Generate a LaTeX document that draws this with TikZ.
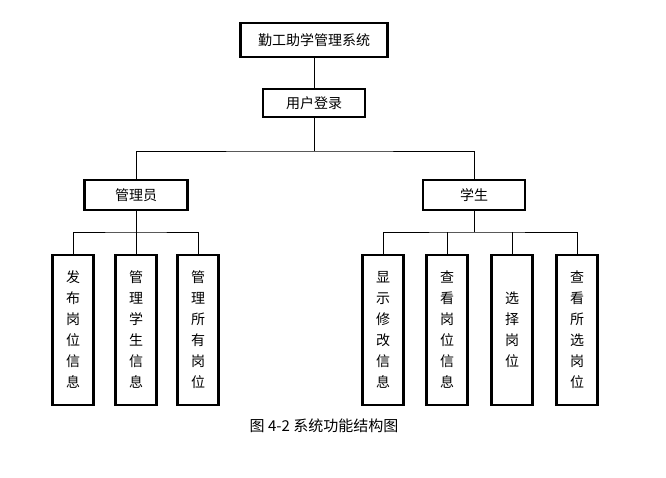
\documentclass[tikz,border=0pt]{standalone}
\usepackage{fontspec}
\newfontfamily\cjk{Noto Sans CJK SC}
\usetikzlibrary{positioning}
\tikzset{
  box/.style={draw, line width=2.6pt, inner sep=0pt, font=\cjk\fontsize{14}{16}\selectfont},
  leaf/.style={draw, line width=2.6pt, inner sep=0pt, minimum width=41pt, minimum height=150pt,
    align=center, font=\cjk\fontsize{14}{21}\selectfont},
  link/.style={line width=0.8pt}
}

\begin{document}
\begin{tikzpicture}[x=1pt, y=-1pt]
\useasboundingbox[fill=white] (0,0) rectangle (666,477);

\node[box, minimum width=147pt, minimum height=34pt] (sys) at (314,40) {勤工助学管理系统};
\node[box, minimum width=102pt, minimum height=28pt] (login) at (314,103) {用户登录};
\node[box, minimum width=103pt, minimum height=30pt] (admin) at (136,195) {管理员};
\node[box, minimum width=102pt, minimum height=30pt] (student) at (474,195) {学生};

\node[leaf] (a1) at (73,330) {发\\布\\岗\\位\\信\\息};
\node[leaf] (a2) at (136,330) {管\\理\\学\\生\\信\\息};
\node[leaf] (a3) at (198,330) {管\\理\\所\\有\\岗\\位};

\node[leaf] (s1) at (383,330) {显\\示\\修\\改\\信\\息};
\node[leaf] (s2) at (447,330) {查\\看\\岗\\位\\信\\息};
\node[leaf] (s3) at (512,330) {选\\择\\岗\\位};
\node[leaf] (s4) at (577,330) {查\\看\\所\\选\\岗\\位};

\coordinate (busTop) at (314,151);
\coordinate (busA) at (136,232);
\coordinate (busS) at (474,232);

\draw[link] (sys) -- (login);
\draw[link] (login) -- (busTop);
\draw[link] (admin.north) |- (busTop) -| (student.north);

\draw[link] (admin) -- (busA);
\draw[link] (a1.north) |- (busA) -| (a3.north);
\draw[link] (busA) -- (a2.north);

\draw[link] (student) -- (busS);
\draw[link] (s1.north) |- (busS) -| (s4.north);
\draw[link] (s2.north) -- (s2.north |- busS);
\draw[link] (s3.north) -- (s3.north |- busS);

\node[font=\cjk\fontsize{15}{17}\selectfont] (cap) at (324,426) {图 4-2 系统功能结构图};
\end{tikzpicture}
\end{document}
